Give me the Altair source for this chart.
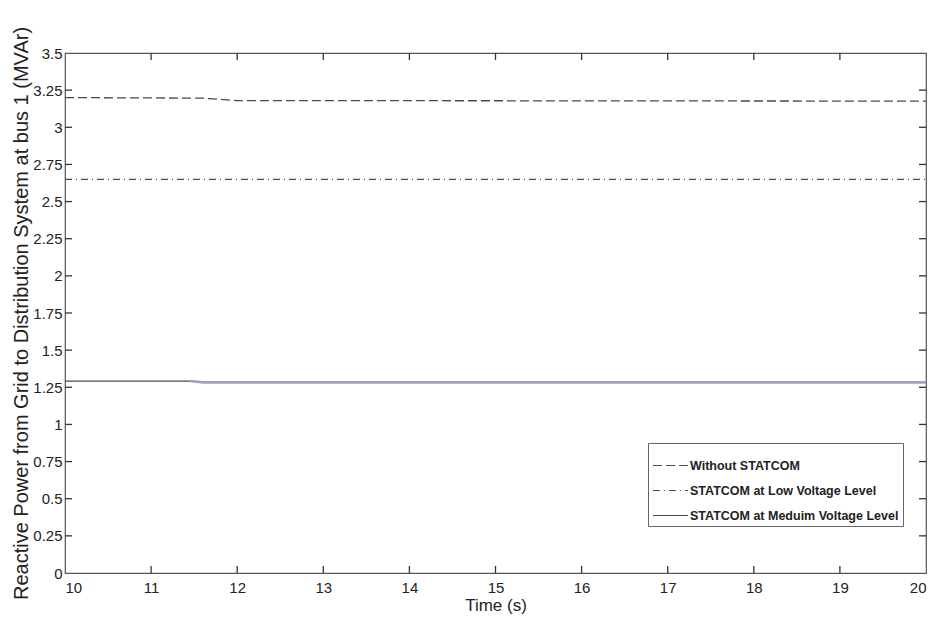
import altair as alt
import pandas as pd

# Series data
t_without = [10.0, 11.6, 12.0, 20.0]
q_without = [3.200, 3.196, 3.180, 3.176]

t_low = [10.0, 20.0]
q_low = [2.650, 2.650]

t_med = [10.0, 11.45, 11.6, 20.0]
q_med = [1.292, 1.292, 1.283, 1.283]

series_names = ["Without STATCOM", "STATCOM at Low Voltage Level",
                "STATCOM at Meduim Voltage Level"]

x_ticks = list(range(10, 21))
y_ticks = [0, 0.25, 0.5, 0.75, 1, 1.25, 1.5, 1.75, 2, 2.25, 2.5, 2.75, 3, 3.25, 3.5]

W, H = 861, 520
FONT = "Liberation Sans"

rows = []
for name, ts, qs in zip(series_names, [t_without, t_low, t_med],
                        [q_without, q_low, q_med]):
    for i, (t, q) in enumerate(zip(ts, qs)):
        rows.append({"series": name, "t": t, "q": q, "order": i})
df = pd.DataFrame(rows)
df_med_late = df[(df.series == series_names[2]) & (df.t >= 11.45)]

xs = alt.Scale(domain=[10, 20], nice=False, zero=False)
ys = alt.Scale(domain=[0, 3.5], nice=False, zero=True)

x_axis = alt.Axis(
    values=x_ticks, format="d", title="Time (s)", grid=False, ticks=False, domain=False,
    labelPadding=7, labelFontSize=15, titleFontSize=17, titlePadding=2,
    labelOverlap=False, labelFont=FONT, titleFont=FONT, labelColor="#222",
    titleColor="#222", titleFontWeight="normal")
y_axis = alt.Axis(
    values=y_ticks, labelExpr="format(datum.value, '~g')",
    title="Reactive Power from Grid to Distribution System at bus 1 (MVAr)",
    grid=False, ticks=False, domain=False, labelPadding=3, labelFontSize=15,
    labelOverlap=False, titleFontSize=20, titlePadding=1, labelFont=FONT, titleFont=FONT,
    labelColor="#222", titleColor="#222", titleFontWeight="normal")

lines = alt.Chart(df).mark_line(strokeWidth=1.3, color="#4a4a4a").encode(
    x=alt.X("t:Q", scale=xs, axis=x_axis),
    y=alt.Y("q:Q", scale=ys, axis=y_axis),
    order="order:Q",
    strokeDash=alt.StrokeDash("series:N", scale=alt.Scale(
        domain=series_names, range=[[9, 4], [7, 4, 1, 4], [1, 0]]),
        legend=alt.Legend(title=None, orient="none", legendX=583, legendY=390,
                          strokeColor="#666", fillColor="white", padding=4,
                          symbolType="stroke", symbolSize=1225,
                          symbolStrokeColor="#4a4a4a", symbolStrokeWidth=1.2,
                          labelFont=FONT, labelFontSize=12.5, labelFontWeight="bold",
                          labelColor="#222", rowPadding=-3, labelOffset=1,
                          labelLimit=400)),
)

med_late = alt.Chart(df_med_late).mark_line(strokeWidth=2.6, color="#a2a2ba").encode(
    x=alt.X("t:Q", scale=xs, axis=x_axis), y=alt.Y("q:Q", scale=ys, axis=y_axis))

dx = pd.DataFrame({"xv": x_ticks[1:-1]})
dy = pd.DataFrame({"yv": y_ticks[1:-1]})
TK = "#333"
tick_top = alt.Chart(dx).mark_rule(color=TK, strokeWidth=1.3).encode(
    x=alt.X("xv:Q", scale=xs, axis=x_axis), y=alt.value(0), y2=alt.value(7))
tick_bot = alt.Chart(dx).mark_rule(color=TK, strokeWidth=1.3).encode(
    x=alt.X("xv:Q", scale=xs, axis=x_axis), y=alt.value(H - 7), y2=alt.value(H))
tick_left = alt.Chart(dy).mark_rule(color=TK, strokeWidth=1.3).encode(
    y=alt.Y("yv:Q", scale=ys, axis=y_axis), x=alt.value(0), x2=alt.value(7))
tick_right = alt.Chart(dy).mark_rule(color=TK, strokeWidth=1.3).encode(
    y=alt.Y("yv:Q", scale=ys, axis=y_axis), x=alt.value(W - 7), x2=alt.value(W))

chart = alt.layer(lines, med_late, tick_top, tick_bot, tick_left, tick_right).properties(
    width=W, height=H,
    autosize=alt.AutoSizeParams(type="none"),
    padding={"left": 57, "top": 45, "right": 4, "bottom": 50},
    background="white",
).configure_view(stroke="#555", strokeWidth=1.2)

chart.save("out.html", embed_options={"renderer": "svg", "actions": False})
